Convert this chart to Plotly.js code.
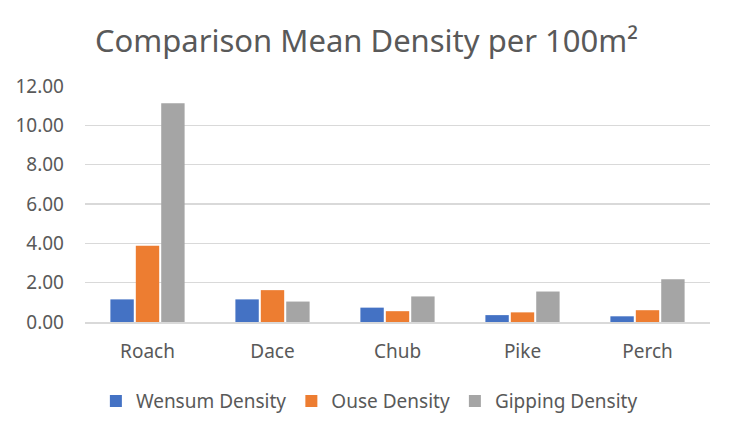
<!DOCTYPE html>
<html><head><meta charset="utf-8">
<script src="https://cdn.plot.ly/plotly-3.0.1.min.js"></script>
<style>html,body{margin:0;padding:0;background:#fff}</style>
</head><body><div id="chart" style="width:733px;height:432px"></div>
<script>
const categories = ["Roach", "Dace", "Chub", "Pike", "Perch"];
const wensum = [1.15, 1.15, 0.73, 0.35, 0.29];
const ouse = [3.88, 1.62, 0.55, 0.49, 0.60];
const gipping = [11.12, 1.04, 1.30, 1.55, 2.17];
const seriesNames = ["Wensum Density", "Ouse Density", "Gipping Density"];
const colors = ["#4472C4", "#ED7D31", "#A5A5A5"];
const tickVals = [0, 2, 4, 6, 8, 10, 12];
const tickText = ["0.00", "2.00", "4.00", "6.00", "8.00", "10.00", "12.00"];

const font = "'Noto Sans', 'Open Sans', sans-serif";
const data = [wensum, ouse, gipping].map((v, i) => ({
  type: "bar", x: categories, y: v, name: seriesNames[i],
  marker: {color: colors[i]}, hoverinfo: "y"
}));
const layout = {
  width: 733, height: 432,
  margin: {l: 85, r: 23, t: 86, b: 110},
  paper_bgcolor: "#fff", plot_bgcolor: "#fff",
  title: {text: "Comparison Mean Density per 100m²", x: 0.5, xanchor: "center", y: 0.905, yanchor: "middle",
          font: {family: font, size: 31, color: "#595959"}},
  barmode: "group", bargap: 0.39, bargroupgap: 0.08,
  font: {family: font, color: "#595959"},
  xaxis: {tickfont: {size: 19, color: "#595959"}, showline: true, linecolor: "#D9D9D9", linewidth: 1.5, ticks: "",
          ticklabelstandoff: 12},
  yaxis: {range: [0, 12], tickvals: tickVals, ticktext: tickText, tickfont: {size: 19, color: "#595959"},
          gridcolor: "#D9D9D9", gridwidth: 1.5, zeroline: false, ticks: "", ticklen: 0, ticklabelstandoff: 20, showline: false},
  legend: {orientation: "h", x: 0.455, xanchor: "center", y: -0.255, yanchor: "top",
           font: {size: 19, color: "#595959"}, itemwidth: 20, traceorder: "normal"},
  showlegend: true
};
Plotly.newPlot("chart", data, layout, {displayModeBar: false, staticPlot: true});
</script></body></html>
